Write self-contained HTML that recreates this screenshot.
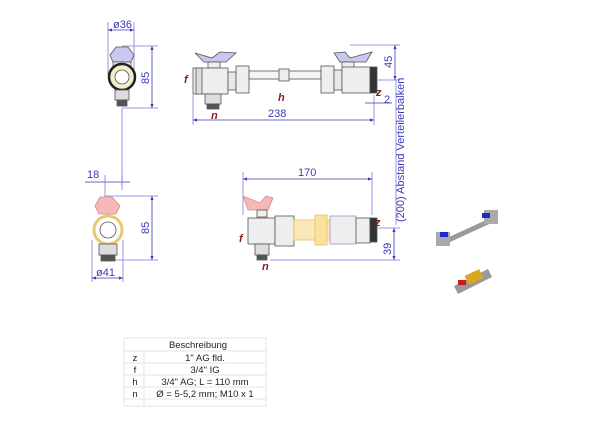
<!DOCTYPE html>
<html><head><style>
body{margin:0;background:#fff}
svg{display:block}
text{font-family:"Liberation Sans",sans-serif}
.d{fill:#3a3ab8;font-size:11px}
.l{fill:#8b1a1a;font-size:11px;font-style:italic;font-weight:bold}
.t{fill:#222;font-size:9.5px}
</style></head><body>
<svg width="600" height="425" viewBox="0 0 600 425" xmlns="http://www.w3.org/2000/svg">
<defs><marker id="a" markerWidth="6" markerHeight="6" refX="5" refY="3" orient="auto-start-reverse"><path d="M0,1 L5,3 L0,5z" fill="#3a3ab8"/></marker></defs>
<g stroke="#7a7ae0" stroke-width="0.8" fill="none">
<!-- top front -->
<line x1="108" y1="22" x2="108" y2="75"/><line x1="134" y1="22" x2="134" y2="75"/>
<line x1="108" y1="30" x2="134" y2="30" marker-start="url(#a)" marker-end="url(#a)" stroke="#3a3ab8"/>
<line x1="122" y1="46" x2="158" y2="46"/><line x1="122" y1="108" x2="158" y2="108"/>
<line x1="152" y1="46" x2="152" y2="108" marker-start="url(#a)" marker-end="url(#a)" stroke="#3a3ab8"/>
<line x1="122" y1="108" x2="122" y2="185"/>
<!-- top side -->
<line x1="193" y1="95" x2="193" y2="125"/><line x1="374" y1="95" x2="374" y2="125"/>
<line x1="193" y1="120" x2="374" y2="120" marker-start="url(#a)" marker-end="url(#a)" stroke="#3a3ab8"/>
<line x1="350" y1="45" x2="400" y2="45"/><line x1="378" y1="80" x2="400" y2="80"/>
<line x1="395" y1="45" x2="395" y2="80" marker-start="url(#a)" marker-end="url(#a)" stroke="#3a3ab8"/>
<line x1="365" y1="103" x2="392" y2="103" stroke="#3a3ab8"/>
<line x1="396" y1="80" x2="396" y2="225"/>
<!-- bottom left -->
<line x1="85" y1="182" x2="130" y2="182" stroke="#3a3ab8"/>
<line x1="105" y1="175" x2="105" y2="200"/><line x1="122" y1="175" x2="122" y2="190"/>
<line x1="105" y1="196" x2="158" y2="196"/><line x1="105" y1="260" x2="158" y2="260"/>
<line x1="152" y1="196" x2="152" y2="260" marker-start="url(#a)" marker-end="url(#a)" stroke="#3a3ab8"/>
<line x1="92" y1="240" x2="92" y2="282"/><line x1="123" y1="240" x2="123" y2="282"/>
<line x1="92" y1="278" x2="123" y2="278" marker-start="url(#a)" marker-end="url(#a)" stroke="#3a3ab8"/>
<!-- bottom side -->
<line x1="243" y1="172" x2="243" y2="215"/><line x1="372" y1="172" x2="372" y2="215"/>
<line x1="243" y1="179" x2="372" y2="179" marker-start="url(#a)" marker-end="url(#a)" stroke="#3a3ab8"/>
<line x1="378" y1="228" x2="400" y2="228"/><line x1="270" y1="260" x2="400" y2="260"/>
<line x1="394" y1="228" x2="394" y2="260" marker-start="url(#a)" marker-end="url(#a)" stroke="#3a3ab8"/>
</g>
<!-- top front drawing -->
<g stroke="#555" stroke-width="0.8">
<path d="M110,55 L116,47 L128,47 L134,55 L131,62 L113,62z" fill="#c8c8f0"/>
<rect x="113" y="62" width="18" height="6" fill="#eee"/>
<circle cx="122" cy="77" r="13" fill="#f3ecc8" stroke="#222" stroke-width="2.5"/>
<circle cx="122" cy="77" r="7" fill="#fff"/>
<rect x="115" y="90" width="14" height="10" fill="#ddd"/>
<rect x="117" y="100" width="10" height="6" fill="#555"/>
<!-- top side -->
<path d="M195,53 L212,58 L220,52 L236,53 L226,62 L204,62z" fill="#c8c8f0"/>
<rect x="208" y="62" width="12" height="6" fill="#eee"/>
<rect x="193" y="68" width="35" height="26" fill="#eee"/>
<rect x="196" y="68" width="6" height="26" fill="#ddd"/>
<rect x="205" y="94" width="16" height="10" fill="#ddd"/>
<rect x="207" y="104" width="12" height="5" fill="#555"/>
<rect x="228" y="72" width="8" height="18" fill="#e8e8e8"/>
<rect x="236" y="66" width="13" height="27" fill="#eee"/>
<rect x="249" y="71" width="72" height="8" fill="#f4f4f4"/>
<rect x="279" y="69" width="10" height="12" fill="#eee"/>
<rect x="321" y="66" width="13" height="27" fill="#eee"/>
<rect x="334" y="70" width="8" height="20" fill="#e8e8e8"/>
<path d="M334,53 L345,52 L350,58 L372,52 L366,62 L340,62z" fill="#c8c8f0"/>
<rect x="342" y="62" width="12" height="6" fill="#eee"/>
<rect x="342" y="67" width="28" height="26" fill="#eee"/>
<rect x="370" y="67" width="7" height="26" fill="#333"/>
<!-- bottom front -->
<path d="M95,206 L100,197 L112,197 L120,206 L116,214 L99,214z" fill="#f4b8b8" stroke="#d88"/>
<circle cx="108" cy="230" r="14" fill="#fff" stroke="#e8c870" stroke-width="3"/>
<circle cx="108" cy="230" r="8" fill="#fff"/>
<rect x="99" y="244" width="18" height="11" fill="#ddd"/>
<rect x="101" y="255" width="14" height="6" fill="#555"/>
<!-- bottom side -->
<path d="M243,196 L260,203 L266,196 L273,198 L268,210 L248,210z" fill="#f4b8b8" stroke="#d88"/>
<rect x="257" y="210" width="10" height="7" fill="#eee"/>
<rect x="248" y="218" width="27" height="26" fill="#eee"/>
<rect x="255" y="244" width="14" height="11" fill="#ddd"/>
<rect x="257" y="255" width="10" height="5" fill="#555"/>
<rect x="275" y="216" width="19" height="30" fill="#eee"/>
<rect x="294" y="220" width="40" height="20" fill="#fbe8b8" stroke="#e8c060"/>
<rect x="315" y="215" width="12" height="30" fill="#fbe0a0" stroke="#e8c060"/>
<rect x="330" y="216" width="26" height="28" fill="#eee" stroke="#99c"/>
<rect x="356" y="218" width="14" height="25" fill="#eee"/>
<rect x="370" y="218" width="7" height="24" fill="#333"/>
</g>
<!-- product photos -->
<g>
<line x1="442" y1="243" x2="492" y2="220" stroke="#999" stroke-width="5"/>
<rect x="436" y="232" width="14" height="14" fill="#aaa"/>
<rect x="440" y="232" width="8" height="5" fill="#1a2acc"/>
<rect x="484" y="210" width="14" height="14" fill="#aaa"/>
<rect x="482" y="213" width="8" height="5" fill="#1a2acc"/>
<line x1="456" y1="290" x2="490" y2="273" stroke="#999" stroke-width="9"/>
<rect x="466" y="272" width="16" height="10" fill="#d9a820" transform="rotate(-25 474 277)"/>
<rect x="458" y="280" width="8" height="5" fill="#cc1a1a"/>
</g>
<!-- dimension texts -->
<text class="d" x="113" y="28">ø36</text>
<text class="d" transform="translate(149,84) rotate(-90)">85</text>
<text class="d" x="268" y="117">238</text>
<text class="d" transform="translate(392,68) rotate(-90)">45</text>
<text class="d" x="384" y="103">2</text>
<text class="d" transform="translate(404,222) rotate(-90)">(200) Abstand Verteilerbalken</text>
<text class="d" x="87" y="178">18</text>
<text class="d" transform="translate(149,234) rotate(-90)">85</text>
<text class="d" x="96" y="276">ø41</text>
<text class="d" x="298" y="176">170</text>
<text class="d" transform="translate(391,255) rotate(-90)">39</text>
<text class="l" x="184" y="83">f</text>
<text class="l" x="278" y="101">h</text>
<text class="l" x="211" y="119">n</text>
<text class="l" x="376" y="96">z</text>
<text class="l" x="239" y="242">f</text>
<text class="l" x="262" y="270">n</text>
<text class="l" x="375" y="226">z</text>
<!-- table -->
<g stroke="#ddd" stroke-width="0.8" fill="none">
<rect x="124" y="338" width="142" height="68"/>
<line x1="124" y1="351" x2="266" y2="351"/><line x1="124" y1="363" x2="266" y2="363"/>
<line x1="124" y1="375" x2="266" y2="375"/><line x1="124" y1="387" x2="266" y2="387"/>
<line x1="124" y1="399" x2="266" y2="399"/><line x1="144" y1="351" x2="144" y2="406"/>
</g>
<g class="t" text-anchor="middle">
<text x="198" y="348">Beschreibung</text>
<text x="135" y="361">z</text><text x="205" y="361">1" AG fld.</text>
<text x="135" y="373">f</text><text x="205" y="373">3/4" IG</text>
<text x="135" y="385">h</text><text x="205" y="385">3/4" AG; L = 110 mm</text>
<text x="135" y="397">n</text><text x="205" y="397">Ø = 5-5,2 mm; M10 x 1</text>
</g>
</svg>
</body></html>
